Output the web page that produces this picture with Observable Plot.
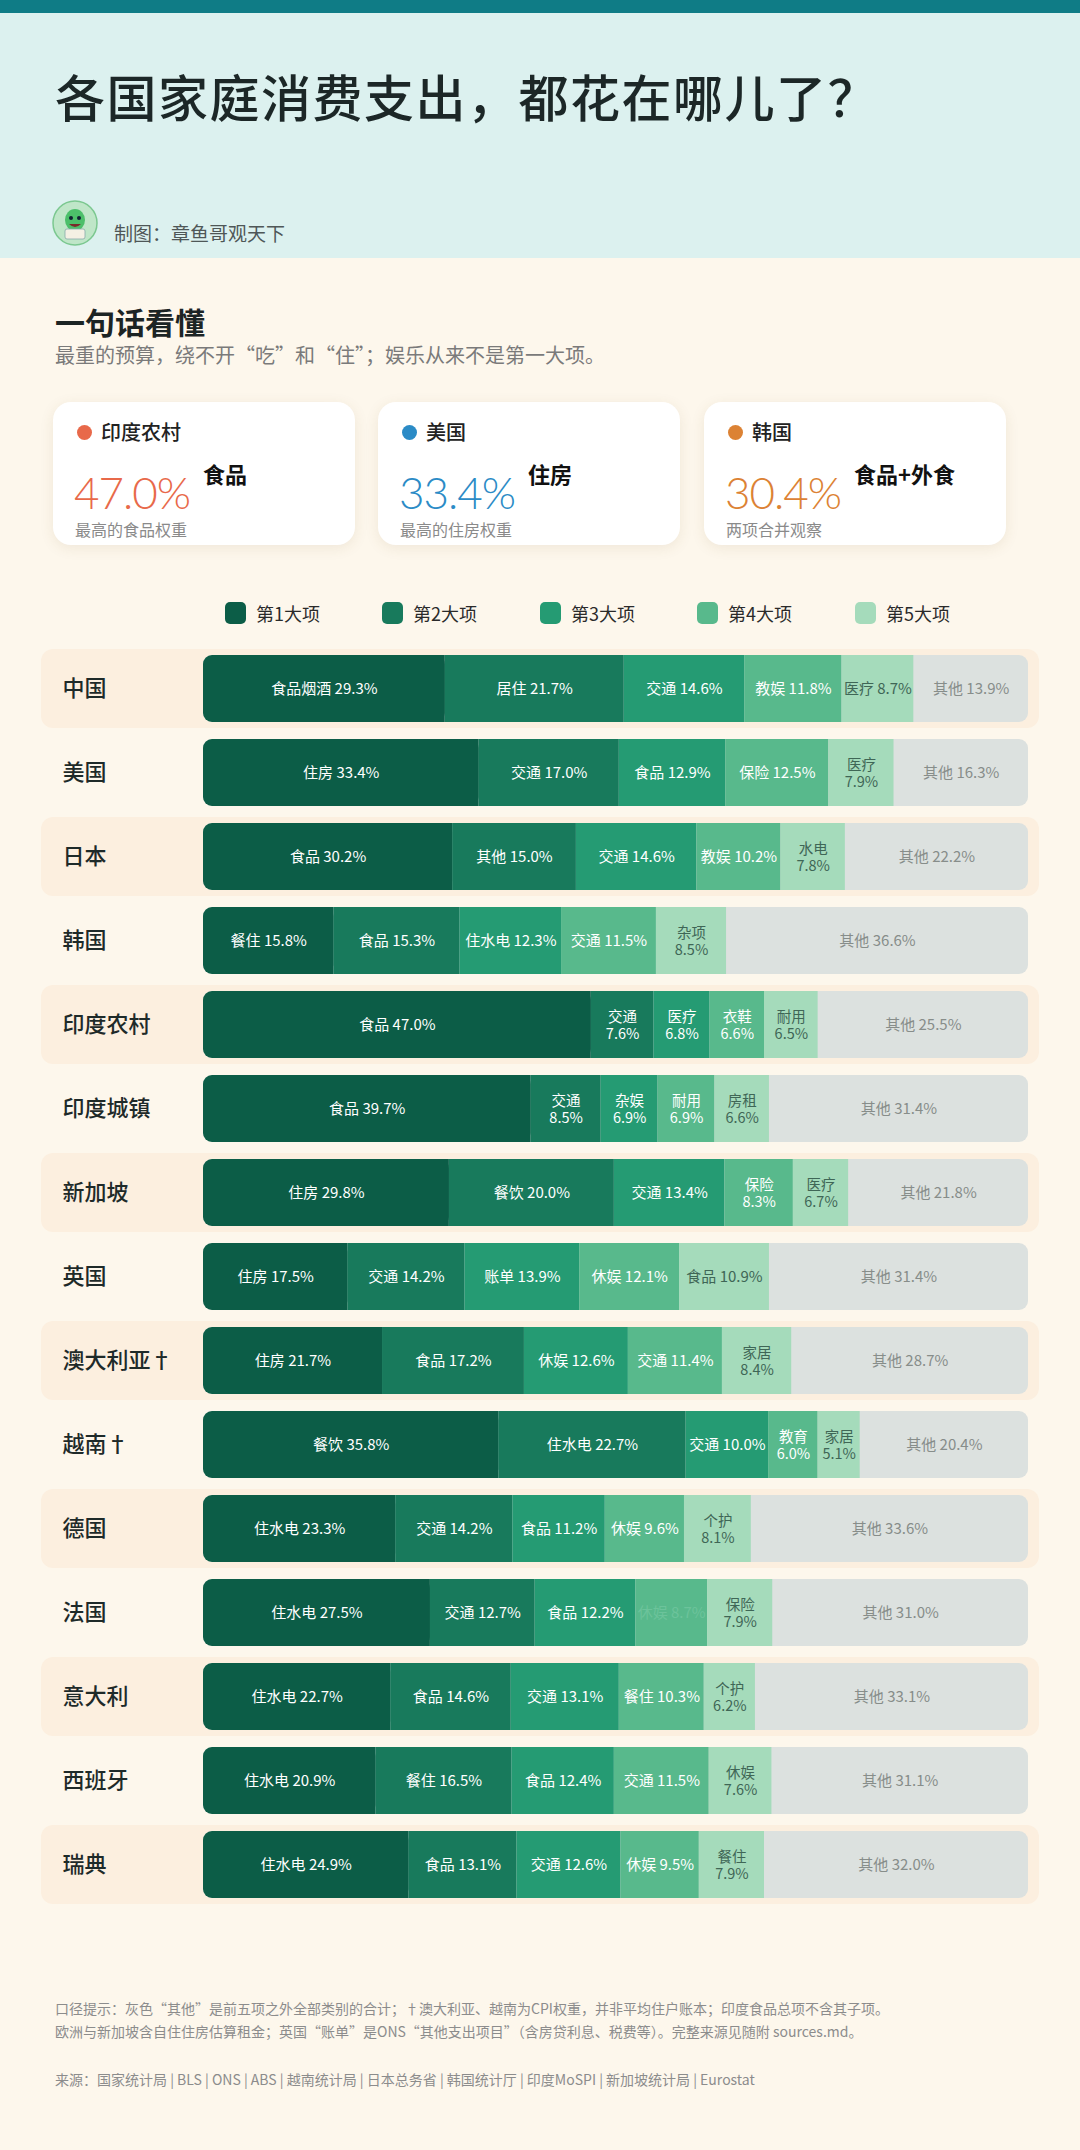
<!DOCTYPE html>
<html>
<head>
<meta charset="utf-8">
<script src="https://cdn.jsdelivr.net/npm/d3@7"></script>
<script src="https://cdn.jsdelivr.net/npm/@observablehq/plot@0.6"></script>
<style>
  html, body { margin: 0; padding: 0; }
  body {
    width: 1080px; height: 2150px; position: relative; overflow: hidden;
    background: #fdf7ec;
    font-family: "Noto Sans CJK SC", "Noto Sans", sans-serif;
  }
  .abs { position: absolute; line-height: 1; }
  #topbar { left: 0; top: 0; width: 1080px; height: 13px; background: #0f7c86; }
  #header { left: 0; top: 13px; width: 1080px; height: 245px; background: #dcf1ef; }
  #title { left: 55px; top: 70px; font-size: 50px; font-weight: 500; color: #1c2727; letter-spacing: 1.5px; white-space: nowrap; }
  #avatar { left: 52px; top: 200px; }
  #byline { left: 114px; top: 223px; font-size: 19px; color: #4f5757; }
  #sec { left: 55px; top: 306px; font-size: 30px; font-weight: 700; color: #1c2424; }
  #secsub { left: 55px; top: 345px; font-size: 20px; color: #7a7a7a; }
  .card { top: 402px; width: 302px; height: 143px; background: #fff; border-radius: 18px;
          box-shadow: 0 3px 14px rgba(120,90,40,0.10); }
  .card div { line-height: 1; }
  .card .dot { position: absolute; left: 24px; top: 23px; width: 15px; height: 15px; border-radius: 50%; }
  .card .name { position: absolute; left: 48px; top: 20px; font-size: 20px; color: #222; font-weight: 500; }
  .card .cat { position: absolute; left: 150px; top: 60px; font-size: 22px; color: #111; font-weight: 600; }
  .card .big { position: absolute; left: 21px; top: 68px; font-size: 44px; font-family: Lato, sans-serif; font-weight: 300; letter-spacing: -1px; }
  .card .note { position: absolute; left: 22px; top: 119px; font-size: 16px; color: #8a8a8a; }
  #legend { left: 0; top: 600px; width: 1080px; height: 28px; }
  .lg { position: absolute; top: 0; height: 26px; display: flex; align-items: center; font-size: 18px; color: #2a2a2a; white-space: nowrap; }
  .lg span.sw { display: inline-block; width: 21px; height: 22px; border-radius: 5px; margin-right: 10px; }
  #chart { left: 0; top: 640px; }
  .foot { left: 55px; font-size: 14px; color: #8c8c8c; white-space: nowrap; }
</style>
</head>
<body>
<div id="topbar" class="abs"></div>
<div id="header" class="abs"></div>
<div id="title" class="abs">各国家庭消费支出，都花在哪儿了？</div>
<svg id="avatar" class="abs" width="46" height="46" viewBox="0 0 46 46">
  <circle cx="23" cy="23" r="22" fill="#bfe6c8" stroke="#7cc890" stroke-width="1.5"/>
  <ellipse cx="23" cy="20" rx="10" ry="11" fill="#4cbf6a"/>
  <circle cx="19" cy="18" r="2" fill="#123"/>
  <circle cx="27" cy="18" r="2" fill="#123"/>
  <path d="M17 24 Q23 30 29 24" fill="#7a2a2a"/>
  <rect x="13" y="29" width="20" height="10" rx="2" fill="#f4f0e4" stroke="#8aa" stroke-width="0.8"/>
</svg>
<div id="byline" class="abs">制图：章鱼哥观天下</div>
<div id="sec" class="abs">一句话看懂</div>
<div id="secsub" class="abs">最重的预算，绕不开“吃”和“住”；娱乐从来不是第一大项。</div>
<div id="cards"></div>
<div id="legend" class="abs"></div>
<div id="chart" class="abs"></div>
<div class="abs foot" style="top:2001px">口径提示：灰色“其他”是前五项之外全部类别的合计；†澳大利亚、越南为CPI权重，并非平均住户账本；印度食品总项不含其子项。</div>
<div class="abs foot" style="top:2024px">欧洲与新加坡含自住住房估算租金；英国“账单”是ONS“其他支出项目”（含房贷利息、税费等）。完整来源见随附 sources.md。</div>
<div class="abs foot" style="top:2072px">来源：国家统计局 | BLS | ONS | ABS | 越南统计局 | 日本总务省 | 韩国统计厅 | 印度MoSPI | 新加坡统计局 | Eurostat</div>

<script>
// ---------- DATA ----------
const countries = ["中国","美国","日本","韩国","印度农村","印度城镇","新加坡","英国","澳大利亚†","越南†","德国","法国","意大利","西班牙","瑞典"];

const rank1Labels = ["食品烟酒","住房","食品","餐住","食品","食品","住房","住房","住房","餐饮","住水电","住水电","住水电","住水电","住水电"];
const rank1Values = [29.3, 33.4, 30.2, 15.8, 47.0, 39.7, 29.8, 17.5, 21.7, 35.8, 23.3, 27.5, 22.7, 20.9, 24.9];

const rank2Labels = ["居住","交通","其他","食品","交通","交通","餐饮","交通","食品","住水电","交通","交通","食品","餐住","食品"];
const rank2Values = [21.7, 17.0, 15.0, 15.3, 7.6, 8.5, 20.0, 14.2, 17.2, 22.7, 14.2, 12.7, 14.6, 16.5, 13.1];

const rank3Labels = ["交通","食品","交通","住水电","医疗","杂娱","交通","账单","休娱","交通","食品","食品","交通","食品","交通"];
const rank3Values = [14.6, 12.9, 14.6, 12.3, 6.8, 6.9, 13.4, 13.9, 12.6, 10.0, 11.2, 12.2, 13.1, 12.4, 12.6];

const rank4Labels = ["教娱","保险","教娱","交通","衣鞋","耐用","保险","休娱","交通","教育","休娱","休娱","餐住","交通","休娱"];
const rank4Values = [11.8, 12.5, 10.2, 11.5, 6.6, 6.9, 8.3, 12.1, 11.4, 6.0, 9.6, 8.7, 10.3, 11.5, 9.5];

const rank5Labels = ["医疗","医疗","水电","杂项","耐用","房租","医疗","食品","家居","家居","个护","保险","个护","休娱","餐住"];
const rank5Values = [8.7, 7.9, 7.8, 8.5, 6.5, 6.6, 6.7, 10.9, 8.4, 5.1, 8.1, 7.9, 6.2, 7.6, 7.9];

const otherLabel = "其他";
const otherValues = [13.9, 16.3, 22.2, 36.6, 25.5, 31.4, 21.8, 31.4, 28.7, 20.4, 33.6, 31.0, 33.1, 31.1, 32.0];

const legendLabels = ["第1大项","第2大项","第3大项","第4大项","第5大项"];

// highlight cards
const cardCountries = ["印度农村","美国","韩国"];
const cardCategories = ["食品","住房","食品+外食"];
const cardValues = ["47.0%","33.4%","30.4%"];
const cardNotes = ["最高的食品权重","最高的住房权重","两项合并观察"];

// ---------- STYLE ----------
const rankColors = ["#0c5d47","#187a5c","#259b73","#58b98c","#a5dbbb"];
const otherColor = "#dce1df";
const textColors = ["#ffffff","#ffffff","#ffffff","#ffffff","#3f6656"];
const otherText = "#878d8a";
const cardColors = ["#e8694a","#2b8bc6","#dc8234"];
const FONT = '"Noto Sans CJK SC", "Noto Sans", sans-serif';

// ---------- CARDS ----------
const cardLefts = [53, 378, 704];
const cardsEl = document.getElementById("cards");
cardCountries.forEach((c, i) => {
  const d = document.createElement("div");
  d.className = "card abs";
  d.style.left = cardLefts[i] + "px";
  d.innerHTML = `<div class="dot" style="background:${cardColors[i]}"></div>
    <div class="name">${c}</div>
    <div class="cat">${cardCategories[i]}</div>
    <div class="big" style="color:${cardColors[i]}">${cardValues[i]}</div>
    <div class="note">${cardNotes[i]}</div>`;
  cardsEl.appendChild(d);
});

// ---------- LEGEND ----------
const legendLefts = [225, 382, 540, 697, 855];
const legEl = document.getElementById("legend");
legendLabels.forEach((l, i) => {
  const d = document.createElement("div");
  d.className = "lg";
  d.style.left = legendLefts[i] + "px";
  d.innerHTML = `<span class="sw" style="background:${rankColors[i]}"></span>${l}`;
  legEl.appendChild(d);
});

// ---------- BUILD SEGMENTS ----------
const rankLabels = [rank1Labels, rank2Labels, rank3Labels, rank4Labels, rank5Labels];
const rankValues = [rank1Values, rank2Values, rank3Values, rank4Values, rank5Values];
const segs = [];
const wholes = [];
countries.forEach((c, ci) => {
  let acc = 0;
  const start = acc;
  for (let r = 0; r < 6; r++) {
    const v = r < 5 ? rankValues[r][ci] : otherValues[ci];
    const name = r < 5 ? rankLabels[r][ci] : otherLabel;
    segs.push({country: c, rank: r, name, value: v, x1: acc, x2: acc + v});
    acc += v;
  }
  wholes.push({country: c, x1: start, x2: acc});
});
const fmt = v => v.toFixed(1) + "%";
const isNarrow = d => d.value < 8.6;

const bandRows = countries.filter((c, i) => i % 2 === 0);

const marks = [
  // alternating row bands
  Plot.cell(bandRows, {y: d => d, fill: "#fcefdf", rx: 12, insetTop: -6, insetBottom: -6}),
  // country names
  Plot.text(countries, {y: d => d, text: d => d, frameAnchor: "left", dx: 21, fontSize: 22, fontWeight: 500, fill: "#1e2a29", textAnchor: "start", fontFamily: FONT}),
  // whole bar (gray "other" base, rounded)
  Plot.barX(wholes, {x1: "x1", x2: "x2", y: "country", fill: otherColor, rx: 9, inset: 0}),
  // first segment rounded + squared right side
  Plot.barX(segs.filter(d => d.rank === 0), {x1: "x1", x2: "x2", y: "country", fill: rankColors[0], rx: 9, inset: 0}),
  Plot.barX(segs.filter(d => d.rank === 0), {x1: "x1", x2: "x2", y: "country", fill: rankColors[0], inset: 0, insetLeft: 14})
];
for (let r = 1; r < 5; r++) {
  marks.push(Plot.barX(segs.filter(d => d.rank === r), {x1: "x1", x2: "x2", y: "country", fill: rankColors[r], inset: 0}));
}
const labelFill = (d) => d.rank === 5 ? otherText : (d.country === "法国" && d.rank === 3 ? "#6cc39b" : textColors[d.rank]);
const mid = d => (d.x1 + d.x2) / 2;
// wide segments: one line
marks.push(Plot.text(segs.filter(d => !isNarrow(d)), {
  x: mid, y: "country", text: d => d.name + " " + fmt(d.value),
  fill: labelFill, fontSize: 15, fontFamily: FONT
}));
// narrow segments: name above, value below
marks.push(Plot.text(segs.filter(isNarrow), {
  x: mid, y: "country", text: d => d.name, dy: -8,
  fill: labelFill, fontSize: 14.5, fontFamily: FONT
}));
marks.push(Plot.text(segs.filter(isNarrow), {
  x: mid, y: "country", text: d => fmt(d.value), dy: 9,
  fill: labelFill, fontSize: 14.5, fontFamily: FONT
}));

const chart = Plot.plot({
  width: 1080,
  height: 1290,
  marginLeft: 41,
  marginRight: 41,
  marginTop: 0,
  marginBottom: 0,
  x: {domain: [0, 100], range: [203, 1028], axis: null},
  y: {type: "band", domain: countries, range: [7, 1267], paddingInner: 0.2, paddingOuter: 0.1, axis: null},
  style: {background: "transparent", fontFamily: FONT, overflow: "visible"},
  marks
});
document.getElementById("chart").appendChild(chart);
</script>
</body>
</html>
